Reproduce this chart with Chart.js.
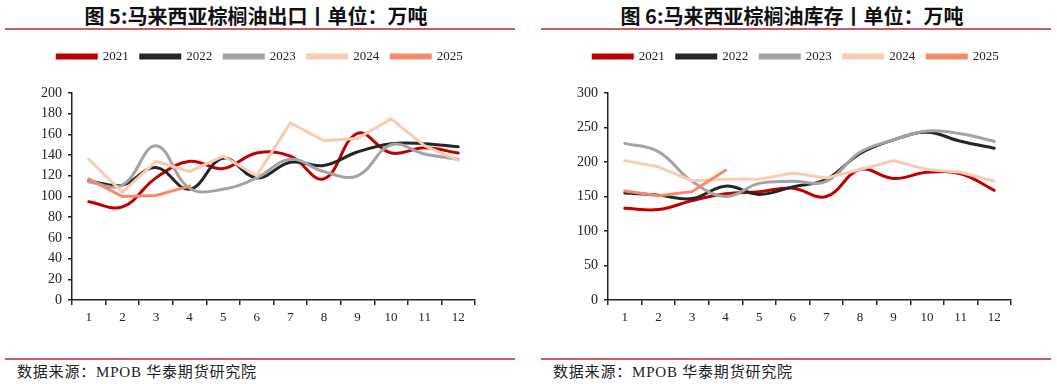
<!DOCTYPE html>
<html>
<head>
<meta charset="utf-8">
<script src="https://cdn.jsdelivr.net/npm/chart.js@4.4.1/dist/chart.umd.min.js"></script>
<style>
    html, body { margin: 0; padding: 0; background: #fff; }
    body { width: 1057px; height: 384px; position: relative; overflow: hidden; }
    .panel { position: absolute; top: 0; width: 510px; height: 384px; }
    .panel-title {
        position: absolute; left: -4px; top: 3px; width: 100%; text-align: center;
        font-family: "Noto Sans CJK SC", sans-serif; font-weight: 700; font-size: 20px;
        color: #111; line-height: 26px;
    }
    .rule { position: absolute; left: 0; width: 100%; height: 2px; background: #c9605f; }
    .rule.top { top: 28px; }
    .rule.bottom { top: 358px; }
    .source {
        position: absolute; left: 12px; top: 362px;
        font-family: "Liberation Serif", "Noto Sans CJK SC", serif; font-size: 15px;
        letter-spacing: 0.8px; color: #222; line-height: 20px;
    }
    .chart-box { position: absolute; left: 0; top: 38px; width: 510px; height: 292px; }
</style>
</head>
<body>
<div class="panel" style="left:5px">
    <div class="panel-title">图 5:马来西亚棕榈油出口丨单位：万吨</div>
    <div class="rule top"></div>
    <div class="chart-box"><canvas id="chartExport"></canvas></div>
    <div class="rule bottom"></div>
    <div class="source">数据来源：MPOB 华泰期货研究院</div>
</div>
<div class="panel" style="left:541px">
    <div class="panel-title">图 6:马来西亚棕榈油库存丨单位：万吨</div>
    <div class="rule top"></div>
    <div class="chart-box"><canvas id="chartStock"></canvas></div>
    <div class="rule bottom"></div>
    <div class="source">数据来源：MPOB 华泰期货研究院</div>
</div>
<script>
    // 月份
    const months = ['1', '2', '3', '4', '5', '6', '7', '8', '9', '10', '11', '12'];
    const years = ['2021', '2022', '2023', '2024', '2025'];

    // 出口（万吨）
    const export2021 = [95, 90, 118, 134, 127, 142, 139, 117, 161, 142, 147, 142];
    const export2022 = [115, 111, 128, 107, 137, 118, 133, 130, 143, 151, 151, 148];
    const export2023 = [114, 111, 149, 108, 107, 118, 136, 124, 120, 150, 141, 136];
    const export2024 = [136, 104, 134, 124, 139, 120, 171, 154, 156, 175, 149, 135];
    const export2025 = [117, 100, 101, 110];

    // 库存（万吨）
    const stock2021 = [133, 131, 144, 154, 157, 162, 150, 189, 176, 185, 183, 159];
    const stock2022 = [155, 152, 147, 165, 153, 164, 175, 212, 232, 243, 230, 220];
    const stock2023 = [227, 215, 172, 150, 169, 172, 172, 214, 232, 245, 241, 230];
    const stock2024 = [202, 193, 173, 175, 175, 184, 177, 189, 202, 189, 185, 172];
    const stock2025 = [158, 151, 157, 188];

    const exportMax = 200, exportStep = 20;
    const stockMax = 300, stockStep = 50;

    const colors = ['#c00000', '#262626', '#a3a3a3', '#f9cbb1', '#f4896b'];
    const smooth = [0.4, 0.4, 0.4, 0, 0];

    const serif = '"Liberation Serif", "Times New Roman", serif';

    // 图例和绘图区之间留出空隙
    const legendGap = {
        id: 'legendGap',
        beforeInit(chart) {
            const fit = chart.legend.fit;
            chart.legend.fit = function () {
                fit.bind(chart.legend)();
                this.height += 20;
            };
        }
    };

    function buildDatasets(series) {
        return series.map((data, i) => ({
            label: years[i],
            data: data,
            borderColor: colors[i],
            backgroundColor: colors[i],
            borderWidth: 3,
            pointRadius: 0,
            tension: smooth[i],
            borderCapStyle: 'round',
            fill: false,
            order: series.length - i
        }));
    }

    function makeChart(id, series, max, step) {
        return new Chart(document.getElementById(id), {
            type: 'line',
            data: { labels: months, datasets: buildDatasets(series) },
            plugins: [legendGap],
            options: {
                responsive: true,
                maintainAspectRatio: false,
                animation: false,
                layout: { padding: 0 },
                plugins: {
                    tooltip: { enabled: false },
                    legend: {
                        position: 'top',
                        labels: {
                            boxWidth: 39, boxHeight: 3, padding: 12,
                            color: '#222',
                            font: { family: serif, size: 13 },
                            sort: (a, b) => a.datasetIndex - b.datasetIndex
                        }
                    }
                },
                scales: {
                    x: {
                        offset: true,
                        grid: { display: true, offset: true, drawOnChartArea: false, drawTicks: true, tickLength: 5, color: '#222', lineWidth: 1.5 },
                        border: { color: '#222', width: 1.5 },
                        ticks: { color: '#222', font: { family: serif, size: 13 }, padding: 5, maxRotation: 0, autoSkip: false },
                        afterFit: s => { s.height = 30; }
                    },
                    y: {
                        min: 0, max: max,
                        grid: { display: true, drawOnChartArea: false, drawTicks: true, tickLength: 4, color: '#222', lineWidth: 1.5 },
                        border: { color: '#222', width: 1.5 },
                        ticks: { stepSize: step, color: '#222', font: { family: serif, size: 14 }, padding: 6 },
                        afterFit: s => { s.width = 67; }
                    },
                    // 右侧留白（空轴）
                    yPad: {
                        position: 'right',
                        grid: { display: false, drawTicks: false },
                        border: { display: false },
                        ticks: { display: false },
                        afterFit: s => { s.width = 40; }
                    }
                }
            }
        });
    }

    makeChart('chartExport', [export2021, export2022, export2023, export2024, export2025], exportMax, exportStep);
    makeChart('chartStock', [stock2021, stock2022, stock2023, stock2024, stock2025], stockMax, stockStep);
</script>
</body>
</html>
